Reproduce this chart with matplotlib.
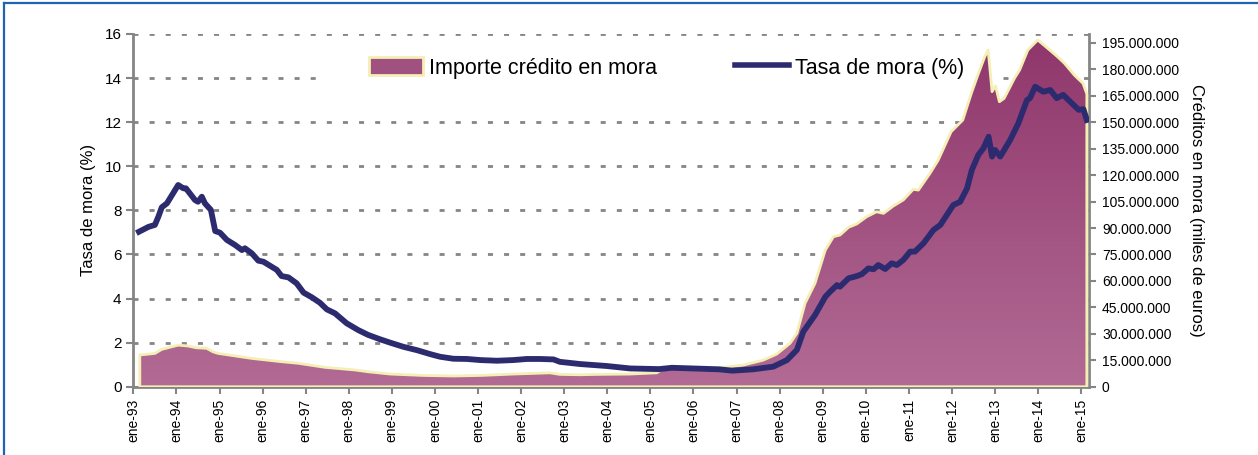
import matplotlib.pyplot as plt
import matplotlib.ticker as mticker
from matplotlib.lines import Line2D
from matplotlib.patches import Patch, Rectangle
from matplotlib.colors import LinearSegmentedColormap
import numpy as np

plt.rcParams['font.family'] = ['Liberation Sans', 'DejaVu Sans']

# Tasa de mora (%) (fecha en años decimales)
fecha_tasa = [1993.13, 1993.35, 1993.5, 1993.58, 1993.66, 1993.78, 1994.04, 1994.16, 1994.22,
              1994.43, 1994.5, 1994.59, 1994.66, 1994.8, 1994.9, 1995.01, 1995.17, 1995.36,
              1995.52, 1995.59, 1995.75, 1995.9, 1996.02, 1996.33, 1996.44, 1996.6, 1996.79,
              1996.95, 1997.14, 1997.33, 1997.49, 1997.68, 1997.95, 1998.22, 1998.45, 1998.73,
              1998.96, 1999.27, 1999.58, 1999.89, 2000.12, 2000.43, 2000.74, 2001.05, 2001.44,
              2001.82, 2002.13, 2002.44, 2002.75, 2002.9, 2003.37, 2003.99, 2004.53, 2005.2,
              2005.5, 2005.98, 2006.6, 2006.9, 2007.38, 2007.85, 2008.17, 2008.4, 2008.55,
              2008.82, 2009.06, 2009.17, 2009.33, 2009.4, 2009.6, 2009.79, 2009.91, 2010.06,
              2010.18, 2010.29, 2010.45, 2010.6, 2010.72, 2010.87, 2011.03, 2011.14, 2011.34,
              2011.57, 2011.73, 2011.88, 2012.03, 2012.19, 2012.35, 2012.46, 2012.61, 2012.73,
              2012.85, 2012.93, 2013.0, 2013.12, 2013.35, 2013.54, 2013.74, 2013.81, 2013.93,
              2014.12, 2014.28, 2014.43, 2014.58, 2014.78, 2014.94, 2015.05, 2015.13]
tasa = [7.03, 7.25, 7.34, 7.71, 8.14, 8.32, 9.15, 9.0, 9.0,
        8.47, 8.39, 8.62, 8.32, 8.02, 7.06, 6.99, 6.66, 6.43,
        6.2, 6.28, 6.05, 5.72, 5.67, 5.3, 5.02, 4.96, 4.69,
        4.27, 4.06, 3.81, 3.51, 3.33, 2.88, 2.57, 2.35, 2.15,
        2.0, 1.81, 1.66, 1.48, 1.36, 1.27, 1.26, 1.21, 1.18,
        1.21, 1.26, 1.26, 1.24, 1.13, 1.03, 0.94, 0.83, 0.8,
        0.86, 0.83, 0.79, 0.73, 0.79, 0.91, 1.21, 1.67, 2.5,
        3.25, 4.08, 4.31, 4.61, 4.54, 4.92, 5.02, 5.11, 5.37,
        5.33, 5.52, 5.34, 5.6, 5.52, 5.75, 6.13, 6.13, 6.51,
        7.11, 7.34, 7.79, 8.24, 8.39, 9.0, 9.83, 10.51, 10.82,
        11.34, 10.44, 10.74, 10.44, 11.19, 11.95, 13.0, 13.09, 13.61,
        13.38, 13.46, 13.09, 13.24, 12.86, 12.56, 12.59, 12.1]

# Importe del credito en mora (miles de euros)
fecha_importe = [1993.15, 1993.5, 1993.66, 1994.04, 1994.27, 1994.46, 1994.7, 1994.85, 1994.97,
                 1995.74, 1996.44, 1996.83, 1997.45, 1998.15, 1998.45, 1998.96, 1999.73, 2000.43,
                 2001.05, 2001.82, 2002.67, 2002.9, 2003.37, 2003.76, 2004.53, 2005.15, 2005.3,
                 2006.07, 2006.69, 2007.16, 2007.62, 2007.93, 2008.24, 2008.4, 2008.59, 2008.82,
                 2009.06, 2009.25, 2009.4, 2009.6, 2009.79, 2010.02, 2010.25, 2010.41, 2010.64,
                 2010.87, 2011.1, 2011.22, 2011.49, 2011.68, 2011.98, 2012.25, 2012.45, 2012.6,
                 2012.76, 2012.84, 2012.93, 2013.01, 2013.1, 2013.21, 2013.45, 2013.57, 2013.76,
                 2013.99, 2014.22, 2014.45, 2014.61, 2014.84, 2015.04, 2015.13]
importe = [18.0e6, 18.9e6, 21.2e6, 23.6e6, 23.1e6, 22.1e6, 21.8e6, 19.8e6, 18.9e6,
           16.1e6, 14.2e6, 13.3e6, 11.0e6, 9.5e6, 8.5e6, 7.2e6, 6.4e6, 6.1e6,
           6.4e6, 7.2e6, 7.9e6, 7.0e6, 6.8e6, 7.0e6, 7.2e6, 7.9e6, 10.4e6,
           10.4e6, 11.0e6, 12.3e6, 15.1e6, 18.5e6, 24.6e6, 30.3e6, 47.3e6, 58.6e6,
           77.5e6, 85.1e6, 86.0e6, 90.4e6, 92.3e6, 96.4e6, 99.2e6, 98.3e6, 102.5e6,
           105.9e6, 111.9e6, 111.5e6, 121.0e6, 128.5e6, 144.6e6, 151.2e6, 166.4e6, 176.7e6,
           187.1e6, 190.9e6, 167.3e6, 170.5e6, 161.6e6, 163.5e6, 174.9e6, 179.6e6, 190.9e6,
           196.6e6, 191.9e6, 187.1e6, 183.4e6, 176.7e6, 172.0e6, 166.0e6]

anios = list(range(1993, 2016))
etiquetas_x = ['ene-%02d' % (a % 100) for a in anios]

gris = '#858585'
azul_linea = '#2D2B6F'
borde_area = '#F3EFB5'
x_fin = 2015.19

fig = plt.figure(figsize=(12.58, 4.55), dpi=100)
ax = fig.add_axes([0.106, 0.150, 0.760, 0.7753])
ax2 = ax.twinx()
ax3 = ax.twinx()

# eje izquierdo: tasa, con la rejilla
ax.set_xlim(1993, x_fin)
ax.set_ylim(0, 16)
ax.set_yticks(range(0, 17, 2))
ax.yaxis.grid(True, color=gris, linewidth=2, linestyle=(0, (1.8, 4.0)))
ax.set_axisbelow(True)
ax.set_ylabel('Tasa de mora (%)', fontsize=12, labelpad=6)
ax.set_xticks(anios)
ax.set_xticklabels(etiquetas_x, rotation=90, fontsize=10)
# fondo blanco de la leyenda (queda debajo del area)
ax.add_patch(Rectangle((0.197, 0.80), 0.71, 0.195, transform=ax.transAxes,
                       facecolor='white', edgecolor='none', zorder=1))

# eje derecho: importe con area en degradado
ax2.set_ylim(0, 200e6)
ax2.set_yticks(np.arange(0, 196e6, 15e6))
ax2.yaxis.set_major_formatter(mticker.FuncFormatter(lambda v, p: f'{int(v):,}'.replace(',', '.')))
ax2.set_ylabel('Créditos en mora (miles de euros)', fontsize=12, rotation=-90, labelpad=18)

poly = ax2.fill_between(fecha_importe, importe, 0, facecolor='none', edgecolor=borde_area,
                        linewidth=2, zorder=3)
grad = np.linspace(0, 1, 256).reshape(-1, 1)
cmap = LinearSegmentedColormap.from_list('mora', ['#B26B95', '#8F366B'])
img = ax2.imshow(grad, extent=[1993, x_fin, 0, 200e6], origin='lower', aspect='auto',
                 cmap=cmap, zorder=2)
img.set_clip_path(poly.get_paths()[0], transform=ax2.transData)
ax2.set_xlim(1993, x_fin)
ax2.set_ylim(0, 200e6)

# linea de la tasa arriba de todo
ax3.plot(fecha_tasa, tasa, color=azul_linea, linewidth=4.2, solid_joinstyle='round')
ax3.set_ylim(0, 16)
ax3.set_xlim(1993, x_fin)
ax3.axis('off')

for a in (ax, ax2):
    for s in a.spines.values():
        s.set_color(gris)
        s.set_linewidth(2)
    a.spines['top'].set_visible(False)
    a.tick_params(colors='black', labelsize=10, length=5, width=1.5)
    a.tick_params(axis='both', color=gris)
ax.tick_params(axis='y', labelsize=11)
ax2.spines['left'].set_visible(False)
ax2.spines['bottom'].set_visible(False)
ax.spines['right'].set_visible(False)
ax2.tick_params(axis='y', pad=4)

handles = [Patch(facecolor='#A0517F', edgecolor=borde_area, linewidth=2),
           Line2D([0], [0], color=azul_linea, linewidth=4)]
ax3.legend(handles, ['Importe crédito en mora', 'Tasa de mora (%)'], ncol=2,
           loc='center', bbox_to_anchor=(0.558, 0.904), fontsize=15.5, frameon=False,
           handlelength=2.5, handleheight=0.9, columnspacing=3.6, handletextpad=0.3)

# marco azul del recuadro
fig.add_artist(Line2D([0.003, 0.003], [0, 0.993], transform=fig.transFigure, color='#1F63B5', linewidth=1.6))
fig.add_artist(Line2D([0.003, 1], [0.993, 0.993], transform=fig.transFigure, color='#1F63B5', linewidth=1.6))

fig.savefig('out.png', dpi=100)
